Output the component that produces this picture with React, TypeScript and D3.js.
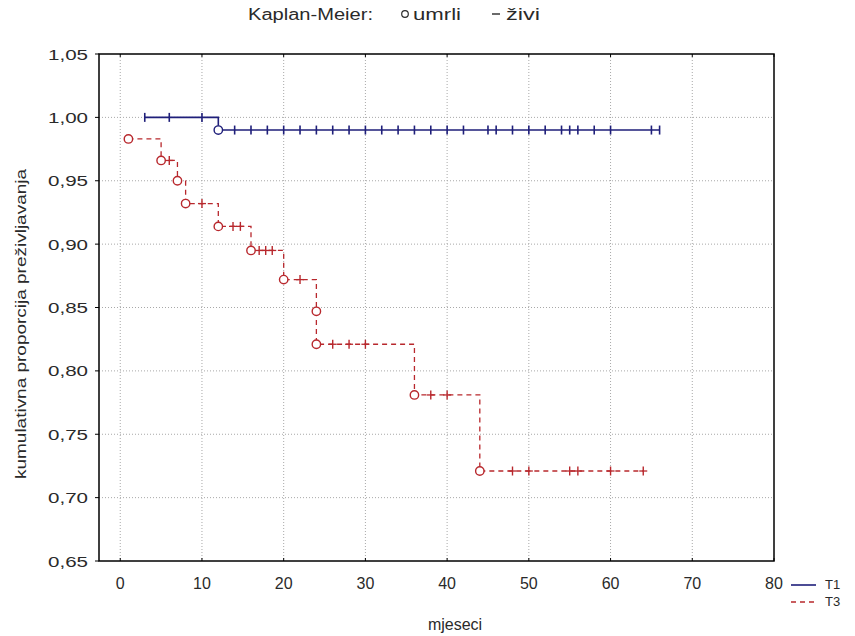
import React from "react";
import * as d3 from "d3";

// ---- data ----
const xTicks = [0, 10, 20, 30, 40, 50, 60, 70, 80];
const yTicks = [0.65, 0.7, 0.75, 0.8, 0.85, 0.9, 0.95, 1.0, 1.05];

const t1Start = 3;
const t1StartS = 1.0;
const t1EventTimes = [12];
const t1EventSurv = [0.99];
const t1Censored = [3, 6, 10, 14, 16, 18, 20, 22, 24, 26, 28, 30, 32, 34, 36, 38, 40, 42, 45, 46, 48, 50, 52, 54, 55, 56, 58, 60, 65, 66];
const t1End = 66;

const t3EventTimes = [1, 5, 7, 8, 12, 16, 20, 24, 24, 36, 44];
const t3EventSurv = [0.983, 0.966, 0.95, 0.932, 0.914, 0.895, 0.872, 0.847, 0.821, 0.781, 0.721];
const t3Censored = [6, 10, 13.8, 14.7, 17, 17.8, 18.6, 22, 26, 28, 30, 38, 40, 48, 50, 55, 56, 60, 64];
const t3End = 64;

const W = 855, H = 636;
const M = { left: 99, right: 774, top: 54, bottom: 561 };
const BLUE = "#1f1f7a";
const RED = "#b8282d";
const TXT = "#2a2a2a";
const FONT = "'Liberation Sans', Arial, sans-serif";
const NARROW = "'Liberation Sans Narrow', 'Liberation Sans', Arial, sans-serif";

const fmt = (v: number) => v.toFixed(2).replace(".", ",");

function survAt(times: number[], surv: number[], s0: number, t: number) {
  let s = s0;
  for (let i = 0; i < times.length; i++) if (times[i] <= t) s = surv[i];
  return s;
}

export default function App() {
  const x = d3.scaleLinear().domain([-2.6, 80]).range([M.left, M.right]);
  const y = d3.scaleLinear().domain([0.65, 1.05]).range([M.bottom, M.top]);
  const line = d3.line<[number, number]>().x(d => x(d[0])).y(d => y(d[1])).curve(d3.curveStepAfter);

  const t1Pts: [number, number][] = [[t1Start, t1StartS], ...t1EventTimes.map((t, i) => [t, t1EventSurv[i]] as [number, number]), [t1End, t1EventSurv[t1EventSurv.length - 1]]];
  const t3Pts: [number, number][] = [...t3EventTimes.map((t, i) => [t, t3EventSurv[i]] as [number, number]), [t3End, t3EventSurv[t3EventSurv.length - 1]]];

  return (
    <svg width={W} height={H} style={{ position: "absolute", left: 0, top: 0, background: "#fff" }}>
      <rect x={0} y={0} width={W} height={H} fill="#fff" />
      {/* grid */}
      {xTicks.filter(t => t < 80).map(t => (
        <line key={"gx" + t} x1={x(t)} x2={x(t)} y1={M.top} y2={M.bottom} stroke="#a8a8a8" strokeWidth={1} strokeDasharray="1,2" />
      ))}
      {yTicks.filter(t => t > 0.65 && t < 1.05).map(t => (
        <line key={"gy" + t} x1={M.left} x2={M.right} y1={y(t)} y2={y(t)} stroke="#a8a8a8" strokeWidth={1} strokeDasharray="1,2" />
      ))}
      {/* frame */}
      <rect x={M.left} y={M.top} width={M.right - M.left} height={M.bottom - M.top} fill="none" stroke="#000" strokeWidth={1.5} />
      {/* ticks */}
      {yTicks.map(t => (
        <line key={"ty" + t} x1={M.left - 4} x2={M.left} y1={y(t)} y2={y(t)} stroke="#000" strokeWidth={1} />
      ))}
      {xTicks.map(t => (
        <line key={"tx" + t} x1={x(t)} x2={x(t)} y1={M.bottom} y2={M.bottom - 3} stroke="#000" strokeWidth={1} />
      ))}
      {xTicks.map(t => (
        <line key={"txt" + t} x1={x(t)} x2={x(t)} y1={M.top} y2={M.top + 3} stroke="#000" strokeWidth={1} />
      ))}
      {/* tick labels */}
      {yTicks.map(t => (
        <text key={"ly" + t} x={48} y={y(t) + 5.5} textLength={40} lengthAdjust="spacingAndGlyphs" fontFamily={FONT} fontSize={15} fill={TXT}>{fmt(t)}</text>
      ))}
      {xTicks.map(t => (
        <text key={"lx" + t} x={x(t)} y={589} textAnchor="middle" fontFamily={NARROW} fontSize={16} fill={TXT}>{t}</text>
      ))}
      {/* axis titles */}
      <text x={455} y={630} textAnchor="middle" fontFamily={NARROW} fontSize={16} fill={TXT}>mjeseci</text>
      <text transform={`translate(26,${324}) rotate(-90)`} textAnchor="middle" textLength={310} lengthAdjust="spacingAndGlyphs" fontFamily={FONT} fontSize={15} fill={TXT}>kumulativna proporcija preživljavanja</text>

      {/* T3 curve */}
      <path d={line(t3Pts) || ""} fill="none" stroke={RED} strokeWidth={1.3} strokeDasharray="5,4" />
      {t3Censored.map((c, i) => {
        const s = survAt(t3EventTimes, t3EventSurv, 1, c);
        return <line key={"c3" + i} x1={x(c)} x2={x(c)} y1={y(s) - 4.5} y2={y(s) + 4.5} stroke={RED} strokeWidth={1.4} />;
      })}
      {t3Censored.map((c, i) => {
        const s = survAt(t3EventTimes, t3EventSurv, 1, c);
        return <line key={"h3" + i} x1={x(c) - 4} x2={x(c) + 4} y1={y(s)} y2={y(s)} stroke={RED} strokeWidth={1.3} />;
      })}
      {t3EventTimes.map((t, i) => (
        <circle key={"e3" + i} cx={x(t)} cy={y(t3EventSurv[i])} r={4.2} fill="#fff" stroke={RED} strokeWidth={1.4} />
      ))}

      {/* T1 curve */}
      <path d={line(t1Pts) || ""} fill="none" stroke={BLUE} strokeWidth={1.6} />
      {t1Censored.map((c, i) => {
        const s = survAt(t1EventTimes, t1EventSurv, t1StartS, c);
        return <line key={"c1" + i} x1={x(c)} x2={x(c)} y1={y(s) - 4.5} y2={y(s) + 4.5} stroke={BLUE} strokeWidth={1.6} />;
      })}
      {t1EventTimes.map((t, i) => (
        <circle key={"e1" + i} cx={x(t)} cy={y(t1EventSurv[i])} r={4.2} fill="#fff" stroke={BLUE} strokeWidth={1.4} />
      ))}

      {/* top legend */}
      <text x={248} y={20} textLength={125} lengthAdjust="spacingAndGlyphs" fontFamily={FONT} fontSize={16} fill={TXT}>Kaplan-Meier:</text>
      <circle cx={405} cy={14} r={3.3} fill="none" stroke={TXT} strokeWidth={1.2} />
      <text x={413} y={20} textLength={48} lengthAdjust="spacingAndGlyphs" fontFamily={FONT} fontSize={16} fill={TXT}>umrli</text>
      <line x1={492} x2={500} y1={14} y2={14} stroke={TXT} strokeWidth={1.4} />
      <text x={506} y={20} textLength={34} lengthAdjust="spacingAndGlyphs" fontFamily={FONT} fontSize={16} fill={TXT}>živi</text>

      {/* bottom-right legend */}
      <line x1={791} x2={816} y1={585} y2={585} stroke={BLUE} strokeWidth={1.6} />
      <text x={825} y={589} fontFamily={NARROW} fontSize={13} fill={TXT}>T1</text>
      <line x1={791} x2={816} y1={602} y2={602} stroke={RED} strokeWidth={1.3} strokeDasharray="5,4" />
      <text x={825} y={606} fontFamily={NARROW} fontSize={13} fill={TXT}>T3</text>
    </svg>
  );
}
